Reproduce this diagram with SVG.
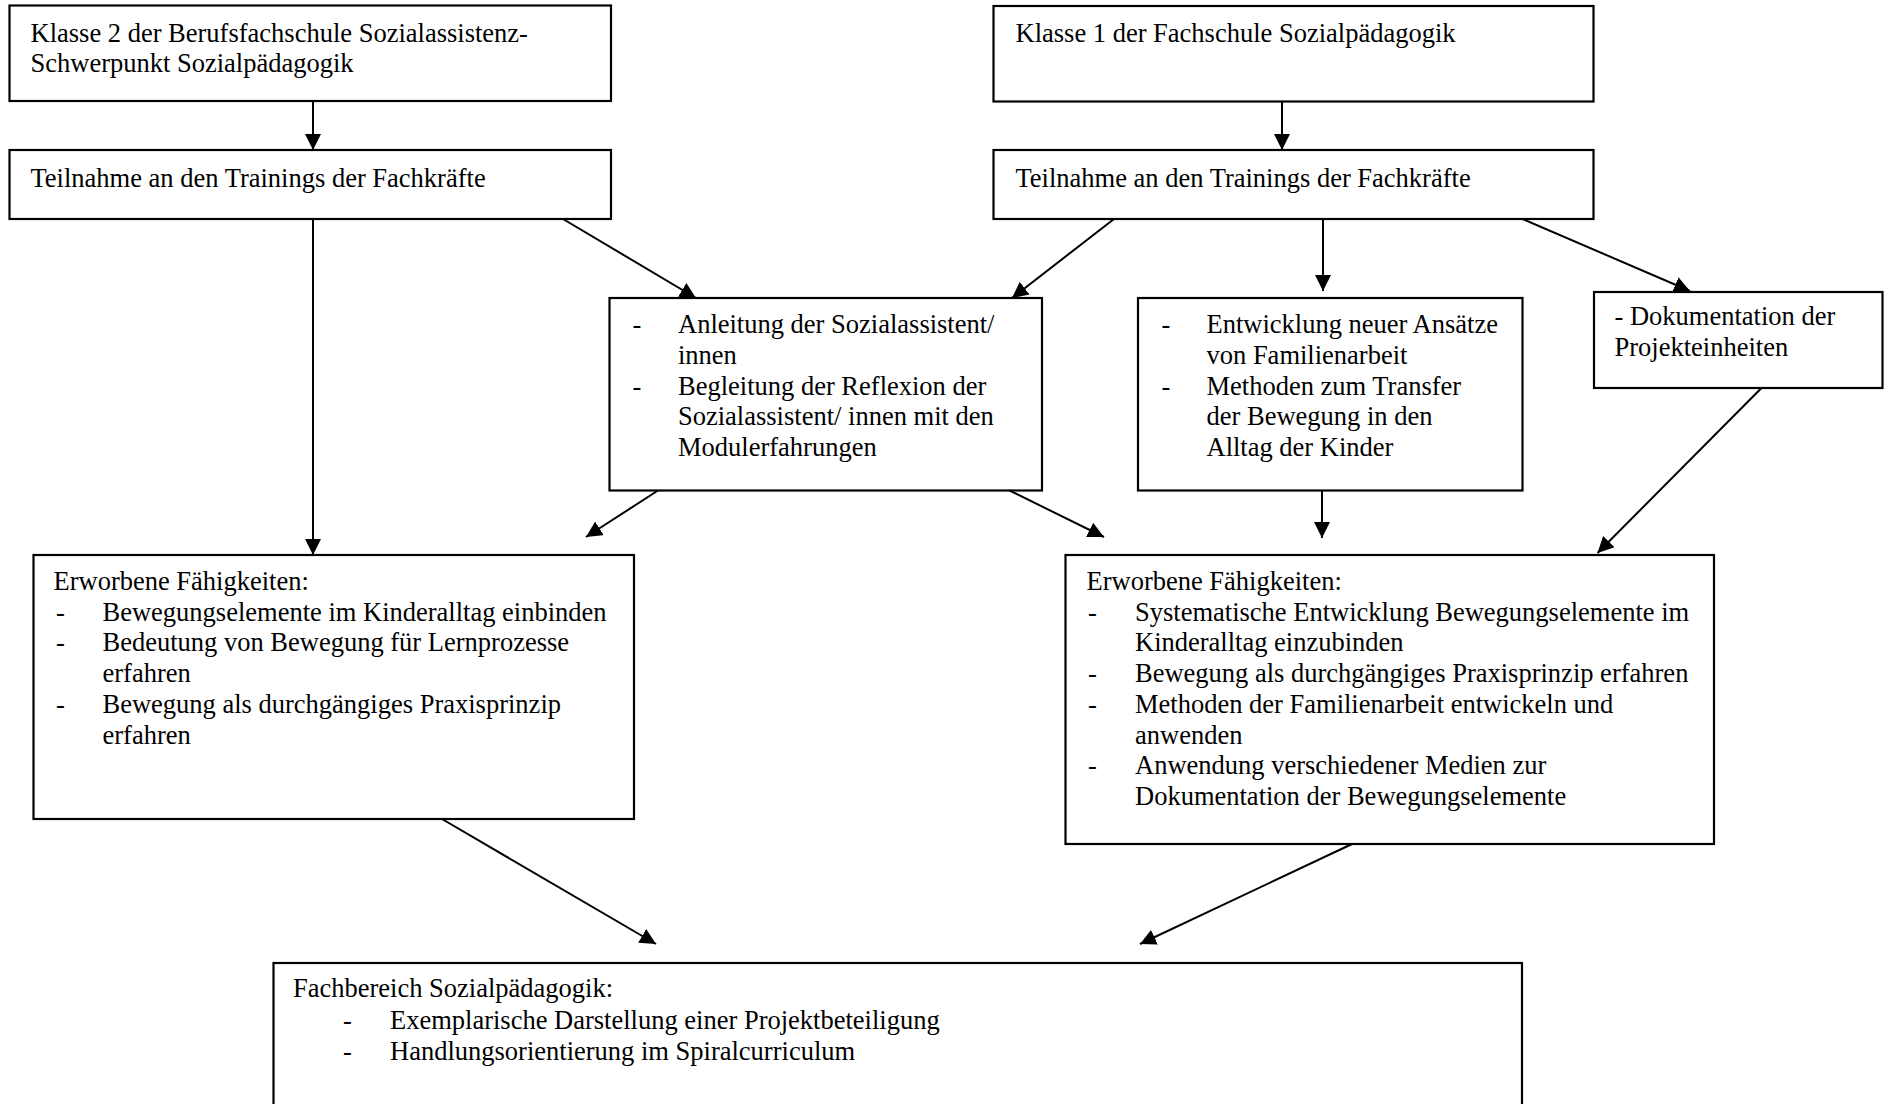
<svg xmlns="http://www.w3.org/2000/svg" width="1888" height="1104" viewBox="0 0 1888 1104">
<defs>
<marker id="ah" markerUnits="userSpaceOnUse" markerWidth="16" markerHeight="16" refX="16" refY="8" orient="auto">
<path d="M0,0 L16,8 L0,16 z" fill="#000"/>
</marker>
<style>
.box{fill:#fff;stroke:#000;stroke-width:2.2}
.t{font-family:"Liberation Serif","Times New Roman",serif;font-size:26.5px;fill:#000}
.c{stroke:#000;stroke-width:2;fill:none;marker-end:url(#ah)}
</style>
</defs>
<rect width="1888" height="1104" fill="#fff"/>
<g id="n1"><rect class="box" x="9.5" y="5.5" width="601.5" height="95.5"/>
<text class="t" x="30.5" y="41.5">Klasse 2 der Berufsfachschule Sozialassistenz-</text>
<text class="t" x="30.5" y="72.2">Schwerpunkt Sozialpädagogik</text></g>
<g id="n2"><rect class="box" x="9.5" y="150" width="601.5" height="69"/>
<text class="t" x="30.5" y="186.5">Teilnahme an den Trainings der Fachkräfte</text></g>
<g id="n3"><rect class="box" x="993.5" y="6" width="600" height="95.5"/>
<text class="t" x="1015.5" y="41.5">Klasse 1 der Fachschule Sozialpädagogik</text></g>
<g id="n4"><rect class="box" x="993.5" y="150" width="600" height="69"/>
<text class="t" x="1015.5" y="186.5">Teilnahme an den Trainings der Fachkräfte</text></g>
<g id="n5"><rect class="box" x="609.5" y="298" width="432.5" height="192.5"/>
<text class="t" x="632.5" y="333.3">-</text><text class="t" x="678" y="333.3">Anleitung der Sozialassistent/</text>
<text class="t" x="678" y="364">innen</text>
<text class="t" x="632.5" y="394.7">-</text><text class="t" x="678" y="394.7">Begleitung der Reflexion der</text>
<text class="t" x="678" y="425.4">Sozialassistent/ innen mit den</text>
<text class="t" x="678" y="456.1">Modulerfahrungen</text></g>
<g id="n6"><rect class="box" x="1138" y="298" width="384.5" height="192.5"/>
<text class="t" x="1161.5" y="333.3">-</text><text class="t" x="1206.5" y="333.3">Entwicklung neuer Ansätze</text>
<text class="t" x="1206.5" y="364">von Familienarbeit</text>
<text class="t" x="1161.5" y="394.7">-</text><text class="t" x="1206.5" y="394.7">Methoden zum Transfer</text>
<text class="t" x="1206.5" y="425.4">der Bewegung in den</text>
<text class="t" x="1206.5" y="456.1">Alltag der Kinder</text></g>
<g id="n7"><rect class="box" x="1594" y="292" width="288.5" height="96"/>
<text class="t" x="1614.5" y="325">- Dokumentation der</text>
<text class="t" x="1614.5" y="355.7">Projekteinheiten</text></g>
<g id="n8"><rect class="box" x="33.5" y="555" width="600.5" height="264"/>
<text class="t" x="53.5" y="590">Erworbene Fähigkeiten:</text>
<text class="t" x="56" y="620.7">-</text><text class="t" x="102.5" y="620.7">Bewegungselemente im Kinderalltag einbinden</text>
<text class="t" x="56" y="651.4">-</text><text class="t" x="102.5" y="651.4">Bedeutung von Bewegung für Lernprozesse</text>
<text class="t" x="102.5" y="682.1">erfahren</text>
<text class="t" x="56" y="712.8">-</text><text class="t" x="102.5" y="712.8">Bewegung als durchgängiges Praxisprinzip</text>
<text class="t" x="102.5" y="743.5">erfahren</text></g>
<g id="n9"><rect class="box" x="1065.5" y="555" width="648.5" height="289"/>
<text class="t" x="1086.5" y="590">Erworbene Fähigkeiten:</text>
<text class="t" x="1088" y="620.7">-</text><text class="t" x="1135" y="620.7">Systematische Entwicklung Bewegungselemente im</text>
<text class="t" x="1135" y="651.4">Kinderalltag einzubinden</text>
<text class="t" x="1088" y="682.1">-</text><text class="t" x="1135" y="682.1">Bewegung als durchgängiges Praxisprinzip erfahren</text>
<text class="t" x="1088" y="712.8">-</text><text class="t" x="1135" y="712.8">Methoden der Familienarbeit entwickeln und</text>
<text class="t" x="1135" y="743.5">anwenden</text>
<text class="t" x="1088" y="774.2">-</text><text class="t" x="1135" y="774.2">Anwendung verschiedener Medien zur</text>
<text class="t" x="1135" y="804.9">Dokumentation der Bewegungselemente</text></g>
<g id="n10"><rect class="box" x="273.5" y="963" width="1248.5" height="160"/>
<text class="t" x="293" y="997">Fachbereich Sozialpädagogik:</text>
<text class="t" x="343" y="1028.5">-</text><text class="t" x="390" y="1028.5">Exemplarische Darstellung einer Projektbeteiligung</text>
<text class="t" x="343" y="1060">-</text><text class="t" x="390" y="1060">Handlungsorientierung im Spiralcurriculum</text></g>
<g id="connectors">
<line class="c" x1="313" y1="101" x2="313" y2="150"/>
<line class="c" x1="1282" y1="101.5" x2="1282" y2="150"/>
<line class="c" x1="313" y1="219" x2="313" y2="555"/>
<line class="c" x1="563" y1="219" x2="696" y2="298"/>
<line class="c" x1="1114" y1="219" x2="1012" y2="298"/>
<line class="c" x1="1323" y1="219" x2="1323" y2="291"/>
<line class="c" x1="1522.5" y1="219" x2="1690" y2="291"/>
<line class="c" x1="1761.5" y1="388" x2="1597.5" y2="553"/>
<line class="c" x1="1322" y1="490.5" x2="1322" y2="538"/>
<line class="c" x1="658" y1="490.5" x2="586" y2="537"/>
<line class="c" x1="1009.5" y1="490.5" x2="1104" y2="537"/>
<line class="c" x1="442" y1="819" x2="656" y2="944"/>
<line class="c" x1="1352" y1="844" x2="1140" y2="944"/>
</g>
</svg>
